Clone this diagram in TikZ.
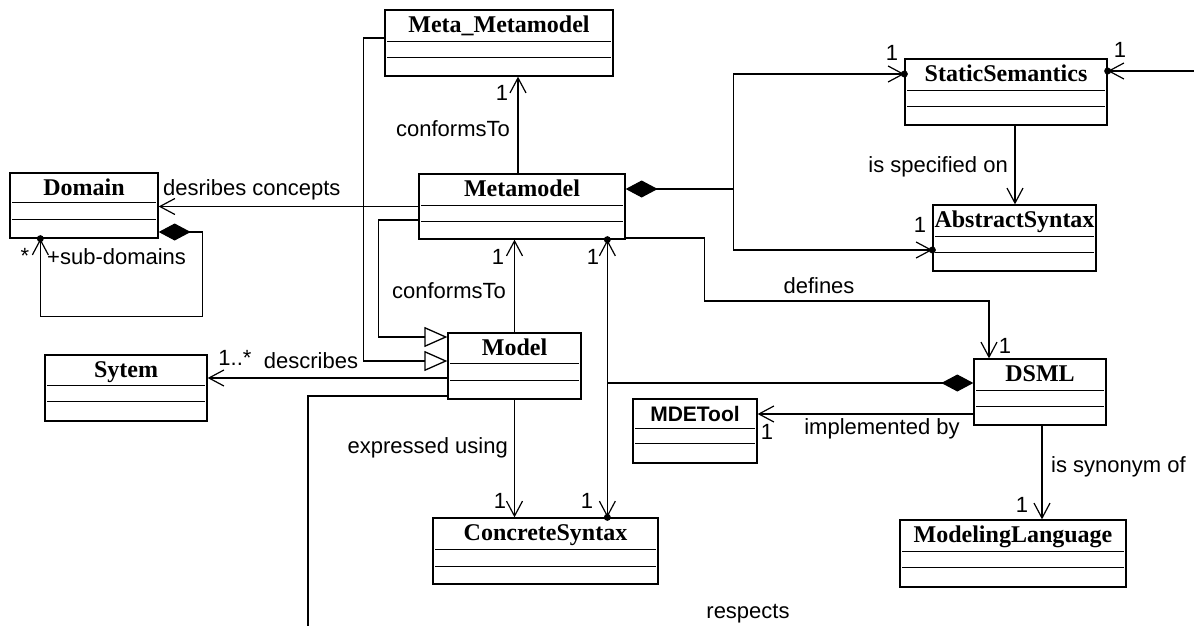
\documentclass[tikz,border=0pt]{standalone}
\usepackage{fontspec}
\setmainfont{Liberation Serif}
\newfontfamily\lsans{Liberation Sans}
\usetikzlibrary{arrows.meta,calc}
\tikzset{
  bb/.tip={Straight Barb[length=15pt,width=16pt,line width=1.2pt]},
  dm/.tip={Diamond[length=32pt,width=17pt,fill=black]},
  tri/.tip={Triangle[open,length=23pt,width=20pt,fill=white]},
}
\newcommand\umlbox[8]{%
  \node[cls, minimum width=#4pt, minimum height=#5pt] (#1) at (#2,#3) {};
  \draw[sep] ($(#1.north west)+(3,#6)$) -- ($(#1.north east)+(-3,#6)$);
  \draw[sep] ($(#1.north west)+(3,#7)$) -- ($(#1.north east)+(-3,#7)$);
  \node[ttl] at ($(#1.north)+(0,23)$) {#8};
}
\begin{document}
\begin{tikzpicture}[x=1pt,y=-1pt,
  cls/.style={draw, line width=1.3pt, rectangle, inner sep=0pt, fill=white},
  sep/.style={line width=1.2pt},
  ttl/.style={font=\fontsize{24}{28}\selectfont\bfseries, anchor=base, inner sep=0pt},
  lbl/.style={font=\lsans\fontsize{22}{26}\selectfont, inner sep=0pt},
  conn/.style={line width=1.3pt},
  nav/.style={conn, -{bb}},
  dotc/.style={fill=black},
]
\fill[white] (0,0) rectangle (1194,626);
\useasboundingbox (0,0) rectangle (1194,626);

% classes
\umlbox{mmm}{499}{43}{228}{66}{32}{48}{Meta\_Metamodel}
\umlbox{mm}{522}{206.5}{206}{65}{32}{48}{Metamodel}
\umlbox{dom}{84}{205.5}{148}{65}{30}{47}{Domain}
\umlbox{sys}{126}{388}{162}{66}{31}{47}{Sytem}
\umlbox{mod}{514.5}{366}{133}{66}{31}{48}{Model}
\umlbox{ss}{1006}{92}{202}{66}{32}{48}{StaticSemantics}
\umlbox{as}{1014.5}{238}{163}{66}{32}{48}{AbstractSyntax}
\umlbox{dsml}{1040}{392}{132}{66}{32}{48}{DSML}
\umlbox{mde}{695}{431}{124}{64}{30}{45}{\lsans\fontsize{21}{24}\selectfont\bfseries MDETool}
\umlbox{cs}{545.5}{551}{225}{66}{32}{49}{ConcreteSyntax}
\umlbox{ml}{1013}{553.5}{226}{67}{32}{48}{ModelingLanguage}

% a. Metamodel -> Meta_Metamodel conformsTo
\coordinate (a0) at ($(mm.north)+(-4,0)$);
\draw[nav] (a0) -- (a0 |- mmm.south);
\node[lbl] at (502,93) {1};
\node[lbl] at (453,129) {conformsTo};

% b. Metamodel -> Domain
\draw[nav] (mm.west) -- (mm.west -| dom.east);
\node[lbl, anchor=west] at (163,190) {desribes concepts};

% c. Domain self composition
\coordinate (c0) at ($(dom.east)+(0,26.5)$);
\coordinate (c1) at ($(dom.south west)+(31,0)$);
\draw[conn, {dm}-{bb}] (c0) -- ++(44,0) |- ($(c1)+(0,78)$) -- (c1);
\fill[dotc] (c1) circle[radius=3.5pt];
\node[lbl] at (25,256) {*};
\node[lbl, anchor=west] at (47,257) {+sub-domains};

% d. Meta_Metamodel -> Model generalization
\coordinate (d0) at ($(mmm.west)+(0,-5)$);
\coordinate (d1) at ($(mod.west)+(0,-5)$);
\draw[conn, -{tri}] (d0) -- ++(-21,0) |- (d1);

% e. Metamodel -> Model generalization
\coordinate (e0) at ($(mm.west)+(0,13.5)$);
\coordinate (e1) at ($(mod.west)+(0,-29)$);
\draw[conn, -{tri}] (e0) -- ++(-40,0) |- (e1);

% f. Model -> Metamodel conformsTo
\draw[nav] (mod.north) -- (mod.north |- mm.south);
\node[lbl] at (498,257) {1};
\node[lbl] at (449,291) {conformsTo};

% g. Model -> Sytem describes
\coordinate (g0) at ($(mod.west)+(0,12)$);
\draw[nav] (g0) -- (g0 -| sys.east);
\node[lbl] at (235,358) {1..*};
\node[lbl] at (311,361) {describes};

% h. Model -> ConcreteSyntax
\draw[nav] (mod.south) -- (mod.south |- cs.north);
\node[lbl, anchor=east] at (508,448) {expressed using};
\node[lbl] at (500,501) {1};

% i. Metamodel <-> ConcreteSyntax
\coordinate (i0) at ($(mm.south west)+(189,0)$);
\coordinate (i1) at (i0 |- cs.north);
\draw[conn, {bb}-{bb}] (i0) -- (i1);
\fill[dotc] (i0) circle[radius=3.5pt];
\fill[dotc] (i1) circle[radius=3.5pt];
\node[lbl] at (593,257) {1};
\node[lbl] at (587,501) {1};

% j. DSML composition to association
\coordinate (j0) at ($(dsml.west)+(0,-9)$);
\draw[conn, {dm}-] (j0) -- (j0 -| i0);

% k. Metamodel composition to StaticSemantics / AbstractSyntax
\coordinate (k0) at ($(mm.east)+(0,-17.5)$);
\coordinate (kj) at ($(k0)+(108,0)$);
\coordinate (k1) at ($(ss.west)+(0,-18)$);
\coordinate (k2) at ($(as.west)+(0,12)$);
\draw[conn, {dm}-] (k0) -- (kj);
\draw[nav] (kj) |- (k1);
\draw[nav] (kj) |- (k2);
\fill[dotc] (k1) circle[radius=3.5pt];
\fill[dotc] (k2) circle[radius=3.5pt];
\node[lbl] at (892,53) {1};
\node[lbl] at (920,225) {1};

% l. StaticSemantics -> AbstractSyntax
\coordinate (l0) at ($(ss.south)+(9,0)$);
\draw[nav] (l0) -- (l0 |- as.north);
\node[lbl, anchor=east] at (1008,167) {is specified on};

% m. Metamodel -> DSML defines
\coordinate (m0) at ($(mm.east)+(0,31.5)$);
\draw[nav] (m0) -- ++(79,0) -- ++(0,63) -| ($(dsml.north)+(-51,0)$);
\node[lbl] at (819,286) {defines};
\node[lbl] at (1005,346) {1};

% n. DSML -> MDETool
\coordinate (n0) at ($(dsml.west)+(0,22)$);
\draw[nav] (n0) -- (n0 -| mde.east);
\node[lbl] at (767,432) {1};
\node[lbl] at (882,429) {implemented by};

% o. DSML -> ModelingLanguage
\coordinate (o0) at ($(dsml.south)+(2,0)$);
\draw[nav] (o0) -- (o0 |- ml.north);
\node[lbl] at (1022,505) {1};
\node[lbl, anchor=west] at (1051,467) {is synonym of};

% p. Model respects (leaves picture)
\coordinate (p0) at ($(mod.west)+(0,30)$);
\coordinate (pend) at (308,626);
\draw[conn] (p0) -| (pend);
\node[lbl] at (748,614) {respects};

% q. incoming to StaticSemantics from right
\coordinate (qend) at (1194,71);
\coordinate (q1) at (qend -| ss.east);
\draw[conn, -{bb}] (qend) -- (q1);
\fill[dotc] (q1) circle[radius=3.5pt];
\node[lbl] at (1120,50) {1};
\end{tikzpicture}
\end{document}
